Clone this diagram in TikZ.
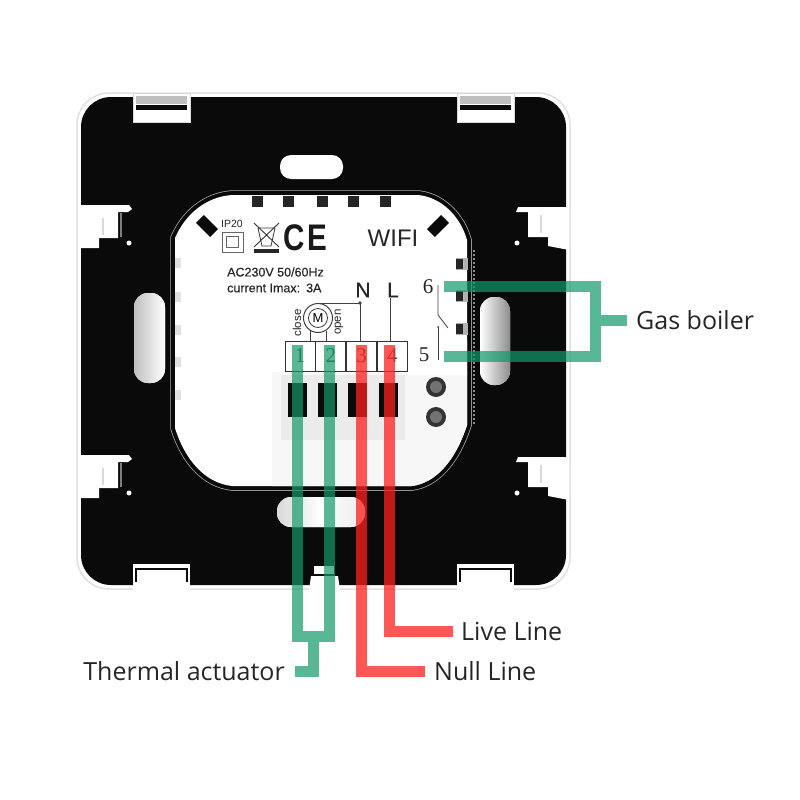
\documentclass[tikz,border=0pt]{standalone}
\usepackage{fontspec}
\setmainfont{Liberation Sans}
\newfontfamily\labelfont{Open Sans}
\newfontfamily\digitfont{Liberation Serif}
\newfontfamily\heavyfont[FakeBold=.35]{Liberation Sans}
\usetikzlibrary{positioning}
\definecolor{greenwire}{RGB}{18,155,105}
\definecolor{redwire}{RGB}{255,30,30}
\definecolor{plate}{RGB}{10,10,10}
\tikzset{
  greenline/.style={draw=greenwire,line width=11pt,opacity=.7},
  redline/.style={draw=redwire,line width=11pt,opacity=.75},
  callout/.style={font=\labelfont\fontsize{25}{27}\selectfont,text=black!85,inner sep=0pt},
  printed/.style={inner sep=0pt,text=black!85},
  terminal/.style={draw=black!80,line width=.8pt,minimum width=30pt,minimum height=30pt,inner sep=0pt,
    font=\digitfont\fontsize{21}{21}\selectfont,text=black!70},
  slot/.style={fill=white,rounded corners=11pt},
  tab/.style={fill=white,draw=black!15,line width=.6pt},
  vent/.style={fill=black!85}
}
\newcommand{\modulepath}{(175,238) .. controls (185,215) and (205,197) .. (232,195) -- (418,195)
  .. controls (440,197) and (460,215) .. (467,240) -- (467,425)
  .. controls (455,462) and (435,483) .. (412,486) -- (232,486)
  .. controls (205,483) and (185,460) .. (175,428) -- cycle}
\begin{document}
\begin{tikzpicture}[x=1pt,y=-1pt]
\useasboundingbox (0,0) rectangle (800,800);
\fill[white] (0,0) rectangle (800,800);

% Construct back plate
\draw[black!12,line width=1.5pt,rounded corners=32pt] (77,93) rectangle (570,589);
\fill[plate,rounded corners=30pt] (81,97) rectangle (566,585);

% Construct clip tabs
\foreach \tx in {133,457} {
  \fill[tab] (\tx,93) rectangle +(57,29);
  \fill[black!25] (\tx+3,96) rectangle +(51,8);
  \fill[plate] (\tx+3,105) rectangle +(51,5);
  \fill[white] (\tx,590) -- (\tx,564) -- +(57,0) -- +(57,26) -- cycle;
  \draw[plate,line width=1.5pt] (\tx+3,582) -- (\tx+3,569) -- +(51,0) -- +(51,13);
}

% Construct side notches
\foreach \ny in {205,455} {
  \fill[white] (78,\ny) -- (129,\ny) -- (132,\ny+4) -- (128,\ny+7) -- (118,\ny+7) -- (118,\ny+33)
    -- (99,\ny+33) -- (99,\ny+43) -- (78,\ny+43) -- cycle;
  \fill[white] (129,\ny+38) circle (2.5);
  \fill[black!50] (120,\ny+8) rectangle +(2,24);
  \fill[black!15] (102,\ny+13) rectangle +(1.5,17);
  \fill[white] (569,\ny+2) -- (518,\ny+2) -- (516,\ny+7) -- (528,\ny+7) -- (528,\ny+32)
    -- (548,\ny+32) -- (548,\ny+41) -- (569,\ny+45) -- cycle;
  \fill[white] (517,\ny+38) circle (2.5);
  \fill[black!15] (540,\ny+10) rectangle +(1.5,18);
}

% Construct mounting slots
\fill[slot] (280,155) rectangle (343,179);
\fill[slot,rounded corners=14pt,left color=black!25,right color=white] (134,293) rectangle (165,383);
\fill[slot,rounded corners=14pt,left color=white,right color=black!45] (480,297) rectangle (510,385);
\fill[slot,rounded corners=14pt,left color=black!15,right color=black!8,middle color=white] (277,497) rectangle (365,527);

% Construct bottom notch
\fill[white] (311,576) -- (338,576) -- (340,590) -- (309,590) -- cycle;
\fill[white] (314,566) rectangle (334,574);

% Construct module body
\draw[black!35,line width=9.5pt] \modulepath;
\draw[plate,line width=8pt] \modulepath;
\fill[white] \modulepath;
\draw[black!45,line width=1.5pt,dash pattern=on 2pt off 2pt] (474,250) -- (474,425);
\begin{scope}
  \clip \modulepath;
  \fill[black!3] (272,372) rectangle (470,490);
  \fill[white] (402,340) rectangle (470,375);
\end{scope}

% Construct vents
\foreach \vx in {252,283,317,348,380}
  \fill[vent] (\vx,196) rectangle +(11,11);
\foreach \vy in {263,297,330,362,395}
  \fill[black!12] (175,\vy-5) rectangle +(6,10);
\foreach \vy in {258,290,323} {
  \fill[black!30] (456,\vy) rectangle +(12,12);
  \fill[vent] (456,\vy+1) rectangle +(7,10);
}
\node[fill=plate,minimum width=20pt,minimum height=11pt,inner sep=0pt,rotate=-45] (markleft) at (207,226) {};
\node[fill=plate,minimum width=20pt,minimum height=11pt,inner sep=0pt,rotate=45] (markright) at (438,226) {};

% Construct printed marks
\node[printed,font=\fontsize{10.5}{11}\selectfont] (iptext) at (232,224) {IP20};
\draw[black!60,line width=1pt] (222,232) rectangle (243,252);
\draw[black!60,line width=1pt] (226,236) rectangle (238,247);
\fill[black!85] (254,249) rectangle (279,253);
\draw[black!80,line width=.8pt] (258,228) -- (262,246) -- (271,246) -- (275,228) -- cycle;
\draw[black!80,line width=.9pt] (254,223) -- (279,247) (279,223) -- (254,247);
\node[printed,font=\bfseries\fontsize{37}{37}\selectfont,text=black!90,xscale=.8] (cemark) at (305,238) {C\kern3ptE};
\node[printed,font=\fontsize{24}{24}\selectfont] (wifi) at (393,238) {WIFI};
\node[printed,anchor=west,font=\heavyfont\fontsize{12.5}{13}\selectfont] (rating) at (227,272) {AC230V 50/60Hz};
\node[printed,anchor=west,font=\heavyfont\fontsize{12.5}{13}\selectfont] (imax) at (227,288) {current Imax:\kern6pt 3A};
\node[printed,font=\heavyfont\fontsize{21}{21}\selectfont] (nmark) at (363,290) {N};
\node[printed,font=\heavyfont\fontsize{21}{21}\selectfont] (lmark) at (393,290) {L};

% Construct motor symbol
\node[circle,draw=black!75,line width=1pt,minimum size=29pt,inner sep=0pt] (motor) at (318,318) {};
\node[circle,draw=black!75,line width=.8pt,minimum size=19pt,inner sep=0pt,font=\fontsize{13}{13}\selectfont] (motorin) at (motor) {M};
\node[printed,rotate=90,font=\fontsize{11.5}{12}\selectfont] (closetext) at (297,323) {close};
\node[printed,rotate=90,font=\fontsize{11.5}{12}\selectfont] (opentext) at (339,322) {open};
\draw[black!75,line width=.8pt] (310,341) -- (310,331) (326,341) -- (326,331);

% Construct terminal row
\node[terminal] (term1) at (300,356) {1};
\node[terminal,right=0pt of term1] (term2) {2};
\node[terminal,right=0pt of term2] (term3) {3};
\node[terminal,right=0pt of term3] (term4) {4};
\coordinate (nstop) at (360,303);
\draw[black!75,line width=.8pt] (motor.north) -- (nstop) -- (360,341);
\fill[black!75] (nstop) circle (1.8);
\draw[black!75,line width=.8pt] (390,298) -- (390,341);

% Construct relay contact
\node[printed,font=\digitfont\fontsize{21}{21}\selectfont] (six) at (428,287) {6};
\node[printed,font=\digitfont\fontsize{21}{21}\selectfont] (five) at (424,355) {5};
\draw[black!75,line width=.8pt] (438,285) -- (438,315) -- (448,328);
\draw[black!75,line width=.8pt] (438,327) -- (438,360);
\fill[black!75] (438,327) circle (1);

% Construct plug blocks
\foreach \px in {288,318,348,379} {
  \fill[black!8] (\px-7,375) rectangle +(33,65);
  \fill[plate] (\px,383) rectangle +(19,34);
}
\foreach \sy in {387,417} {
  \fill[black!80] (436,\sy) circle (10);
  \fill[black!55] (436,\sy) circle (6);
}

% Construct labels
\node[callout,anchor=west] (boiler) at (636,320) {Gas boiler};
\node[callout,anchor=east] (actuator) at (285,671) {Thermal actuator};
\node[callout,anchor=west] (liveline) at (461,631) {Live Line};
\node[callout,anchor=west] (nullline) at (434,671) {Null Line};

% Construct wires
\coordinate (tip1) at (297.5,345);
\coordinate (tip2) at (329,345);
\coordinate (tip3) at (361.5,345);
\coordinate (tip4) at (389.5,345);
\coordinate (tip5) at (444,356.5);
\coordinate (tip6) at (444,286.5);
\draw[greenline] (tip1) -- (297.5,636) -- (329,636) -- (tip2)
  (313,636) -- (313,671) -- ([xshift=10pt]actuator.east);
\draw[redline] (tip3) |- ([xshift=-9pt]nullline.west);
\draw[redline] (tip4) |- ([xshift=-8pt]liveline.west);
\draw[greenline] (tip6) -- (595,286.5) -- (595,356.5) -- (tip5)
  (595,320) -- ([xshift=-9pt]boiler.west);
\end{tikzpicture}
\end{document}
